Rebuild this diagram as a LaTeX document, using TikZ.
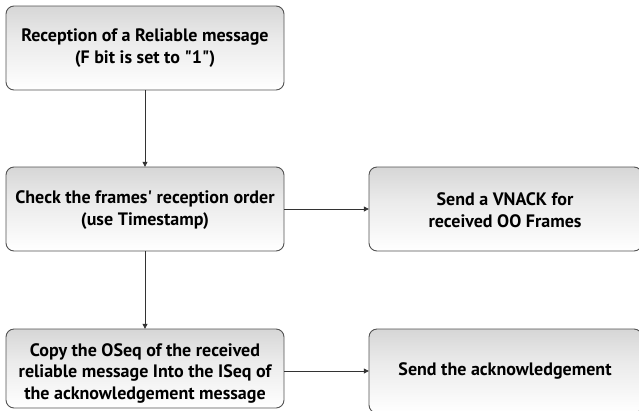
\documentclass[tikz,border=0pt]{standalone}
\usepackage{fontspec}
\setmainfont{PT Sans}
\usetikzlibrary{arrows.meta}
% grey-to-white fill used by every process box (0bp = bottom edge)
\pgfdeclareverticalshading{boxshade}{100bp}{
  color(0bp)=(black!24);
  color(10bp)=(black!10);
  color(25bp)=(white);
  color(55bp)=(black!8);
  color(100bp)=(black!26)}
\tikzset{
  procbox/.style={draw=black!68, line width=0.9pt, rounded corners=8pt,
    shading=boxshade, shading angle=0},
  boxtext/.style={font=\fontsize{18}{21.5}\selectfont\bfseries, align=center, inner sep=0pt},
  flow/.style={draw=black!80, line width=0.8pt,
    -{Triangle[length=5pt,width=5pt]}}
}
\begin{document}
\begin{tikzpicture}[x=1pt,y=-1pt]
\useasboundingbox (0,0) rectangle (639,410);
\begin{scope}
\clip (0,0) rectangle (639,410);
% boxes
\path[procbox] (6,6) rectangle (284,90);
\path[procbox] (6,167) rectangle (284,251);
\path[procbox] (6,329) rectangle (284,408);
\path[procbox] (369,167) rectangle (642,251);
\path[procbox] (369,329) rectangle (642,413);
\end{scope}
% named anchors for the boxes
\node[minimum width=278pt, minimum height=84pt, inner sep=0pt] (recv) at (145,48) {};
\node[minimum width=278pt, minimum height=84pt, inner sep=0pt] (check) at (145,209) {};
\node[minimum width=278pt, minimum height=79pt, inner sep=0pt] (copy) at (145,368.5) {};
\node[minimum width=273pt, minimum height=84pt, inner sep=0pt] (vnack) at (505.5,209) {};
\node[minimum width=273pt, minimum height=84pt, inner sep=0pt] (ack) at (505.5,371) {};
% labels
\node[boxtext] (recvT) at (145,48) {Reception of a Reliable message\\(F bit is set to \textquotedbl 1\textquotedbl)};
\node[boxtext] (checkT) at (145,210) {Check the frames\textquotesingle\ reception order\\(use Timestamp)};
\node[boxtext] (copyT) at (145,373) {Copy the OSeq of the received\\reliable message Into the ISeq of\\the acknowledgement message};
\node[boxtext] (vnackT) at (505,210) {Send a VNACK for\\received OO Frames};
\node[boxtext] (ackT) at (505,371) {Send the acknowledgement};
% connectors
\draw[flow] (recv.south) -- (check.north);
\draw[flow] (check.south) -- (copy.north);
\draw[flow] (check.east) -- (vnack.west);
\draw[flow] (copy.east |- ack.west) -- (ack.west);
\end{tikzpicture}
\end{document}
